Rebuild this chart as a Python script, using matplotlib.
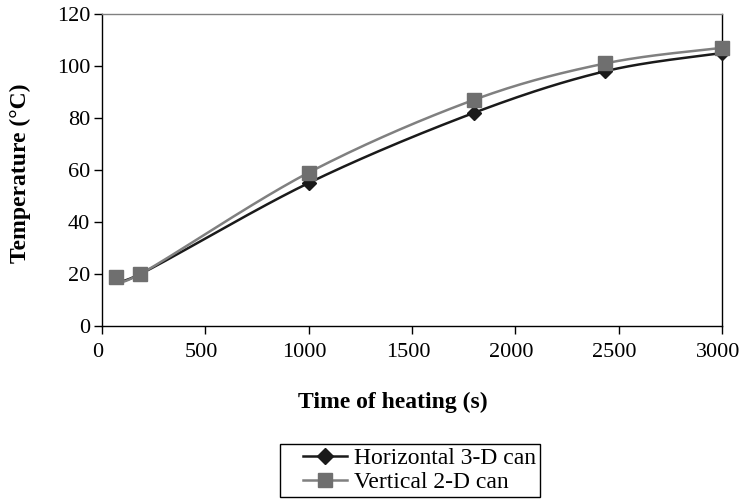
import numpy as np
import matplotlib
matplotlib.use("Agg")
import matplotlib.pyplot as plt
import matplotlib.transforms as mtransforms
from matplotlib.lines import Line2D
from matplotlib.legend_handler import HandlerLine2D

plt.rcParams['font.family'] = ['Liberation Serif', 'DejaVu Serif']

# Heating data
time_s = [70, 185, 1000, 1800, 2435, 3000]
horizontal_3d = [19, 20, 55, 82, 98, 105]
vertical_2d = [19, 20, 59, 87, 101, 107]

series_names = ["Horizontal 3-D can", "Vertical 2-D can"]
x_ticks = [0, 500, 1000, 1500, 2000, 2500, 3000]
y_ticks = [0, 20, 40, 60, 80, 100, 120]


def smooth_curve(xs, ys, n=40):
    """Cubic Bezier smoothing through the points (cardinal, tension 1/6)."""
    p = np.column_stack([xs, ys]).astype(float)
    ext = np.vstack([p[0], p, p[-1]])
    out = []
    t = np.linspace(0, 1, n)[:, None]
    for i in range(len(p) - 1):
        p0, p1, p2, p3 = ext[i], ext[i + 1], ext[i + 2], ext[i + 3]
        c1 = p1 + (p2 - p0) / 6.0
        c2 = p2 - (p3 - p1) / 6.0
        seg = ((1 - t) ** 3) * p1 + 3 * ((1 - t) ** 2) * t * c1 \
            + 3 * (1 - t) * t ** 2 * c2 + t ** 3 * p2
        out.append(seg if i == 0 else seg[1:])
    out = np.vstack(out)
    return out[:, 0], out[:, 1]


class IndentedLineHandler(HandlerLine2D):
    """Legend line handle with some blank space before the line."""

    def __init__(self, indent, **kw):
        super().__init__(**kw)
        self.indent = indent

    def create_artists(self, legend, orig_handle, xdescent, ydescent,
                       width, height, fontsize, trans):
        return super().create_artists(legend, orig_handle,
                                      xdescent - self.indent, ydescent,
                                      width - self.indent, height,
                                      fontsize, trans)


fig = plt.figure(figsize=(7.43, 4.99), dpi=100)
ax = fig.add_axes([0.1373, 0.3467, 0.8344, 0.6252])

dark = "#1a1a1a"
grey = "#808080"
grey_marker = "#6f6f6f"

hx, hy = smooth_curve(time_s, horizontal_3d)
vx, vy = smooth_curve(time_s, vertical_2d)

ax.plot(hx, hy, color=dark, lw=1.8, zorder=2)
ax.plot(time_s, horizontal_3d, ls="none", marker="D", ms=7.5,
        color=dark, zorder=3, clip_on=False)
ax.plot(vx, vy, color=grey, lw=1.8, zorder=4)
ax.plot(time_s, vertical_2d, ls="none", marker="s", ms=9.5,
        color=grey_marker, zorder=5, clip_on=False)

ax.set_xlim(0, 3000)
ax.set_ylim(0, 120)
ax.set_xticks(x_ticks)
ax.set_yticks(y_ticks)
ax.tick_params(axis="both", direction="out", length=5.5, width=1,
               labelsize=16, color="black")
ax.tick_params(axis="x", pad=7)
ax.tick_params(axis="y", pad=3)

# nudge x tick labels slightly left
shift = mtransforms.ScaledTranslation(-4 / 100, 0, fig.dpi_scale_trans)
for lbl in ax.get_xticklabels():
    lbl.set_transform(lbl.get_transform() + shift)

for side in ["left", "bottom", "right"]:
    ax.spines[side].set_color("black")
    ax.spines[side].set_linewidth(1.0)
ax.spines["top"].set_color("#808080")
ax.spines["top"].set_linewidth(1.0)

ax.set_xlabel("Time of heating (s)", fontsize=17, fontweight="bold")
ax.xaxis.set_label_coords((393 - 102) / 620, (326 - 408) / 312)
ax.xaxis.label.set_va("baseline")

ax.set_ylabel("Temperature (\u00b0C)", fontsize=17, fontweight="bold")
ax.yaxis.set_label_coords((20 - 102) / 620, (326 - 173) / 312)
ax.yaxis.label.set_va("center")

handles = [
    Line2D([], [], color=dark, lw=1.8, marker="D", ms=8),
    Line2D([], [], color=grey, lw=1.8, marker="s", ms=10,
           markerfacecolor=grey_marker, markeredgecolor=grey_marker),
]
handler = IndentedLineHandler(indent=14)
leg = fig.legend(handles, series_names, loc="upper left",
                 bbox_to_anchor=(280 / 743, 1 - 444 / 499),
                 fontsize=17, frameon=True, fancybox=False,
                 edgecolor="black", framealpha=1, handlelength=2.7,
                 handletextpad=0.3, labelspacing=0.1, borderpad=0.15,
                 borderaxespad=0,
                 handler_map={Line2D: handler})
leg.get_frame().set_linewidth(1.0)

fig.savefig("out.png", dpi=100)
